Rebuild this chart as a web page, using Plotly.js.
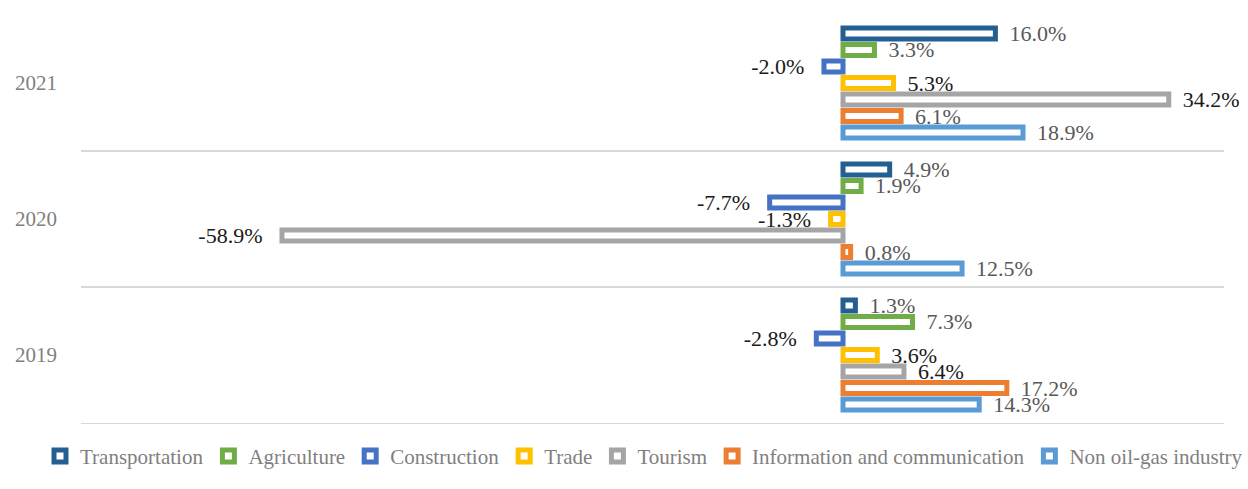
<!DOCTYPE html>
<html>
<head>
<meta charset="utf-8">
<script src="https://cdn.plot.ly/plotly-3.0.1.min.js"></script>
<style>html,body{margin:0;padding:0;background:#fff;}#chart{width:1248px;height:489px;}</style>
</head>
<body>
<div id="chart"></div>
<script>
// Categories (bottom to top)
var years = ['2019', '2020', '2021'];

// Series (values per year 2019, 2020, 2021), in %
var seriesNames = ['Transportation', 'Agriculture', 'Construction', 'Trade', 'Tourism', 'Information and communication', 'Non oil-gas industry'];
var transportation = [1.3, 4.9, 16.0];
var agriculture    = [7.3, 1.9, 3.3];
var construction   = [-2.8, -7.7, -2.0];
var trade          = [3.6, -1.3, 5.3];
var tourism        = [6.4, -58.9, 34.2];
var infoComm       = [17.2, 0.8, 6.1];
var nonOilGas      = [14.3, 12.5, 18.9];

var seriesValues = [transportation, agriculture, construction, trade, tourism, infoComm, nonOilGas];
var seriesColors = ['#255E91', '#70AD47', '#4472C4', '#FFC000', '#A5A5A5', '#ED7D31', '#5B9BD5'];
var labelColors  = ['#595959', '#595959', '#1a1a1a', '#1a1a1a', '#1a1a1a', '#595959', '#595959'];

var NB = '\u00a0';
function fmt(v) {
  var s = v.toFixed(1) + '%';
  return v >= 0 ? NB + NB + s : s + NB + NB + NB;
}

var traces = [];
for (var i = seriesNames.length - 1; i >= 0; i--) {
  traces.push({
    type: 'bar',
    orientation: 'h',
    name: seriesNames[i],
    y: years,
    x: seriesValues[i],
    text: seriesValues[i].map(fmt),
    textposition: 'outside',
    constraintext: 'none',
    cliponaxis: false,
    textfont: {family: 'Liberation Serif', size: 22, color: labelColors[i]},
    marker: {color: '#ffffff', line: {color: seriesColors[i], width: 5}},
    hoverinfo: 'x+name'
  });
}

var layout = {
  width: 1248,
  height: 489,
  margin: {l: 81, r: 24, t: 15, b: 66},
  paper_bgcolor: '#ffffff',
  plot_bgcolor: '#ffffff',
  barmode: 'group',
  bargap: 0.15,
  bargroupgap: 0.33,
  font: {family: 'Liberation Serif', color: '#7f7f7f'},
  xaxis: {
    range: [-80, 40],
    showgrid: false,
    zeroline: false,
    showticklabels: false,
    showline: true,
    linecolor: '#d9d9d9',
    linewidth: 1.3,
    ticks: '',
    fixedrange: true
  },
  yaxis: {
    type: 'category',
    tickson: 'boundaries',
    showgrid: true,
    gridcolor: '#d9d9d9',
    gridwidth: 1.3,
    zeroline: false,
    showline: false,
    ticks: '',
    ticklabelstandoff: 23,
    tickfont: {family: 'Liberation Serif', size: 21, color: '#7f7f7f'},
    fixedrange: true
  },
  showlegend: true,
  legend: {
    orientation: 'h',
    traceorder: 'reversed',
    x: -0.035,
    xanchor: 'left',
    y: -0.082,
    yanchor: 'middle',
    font: {family: 'Liberation Serif', size: 21, color: '#7f7f7f'},
    itemwidth: 30
  }
};

Plotly.newPlot('chart', traces, layout, {displayModeBar: false, staticPlot: true});
</script>
</body>
</html>
